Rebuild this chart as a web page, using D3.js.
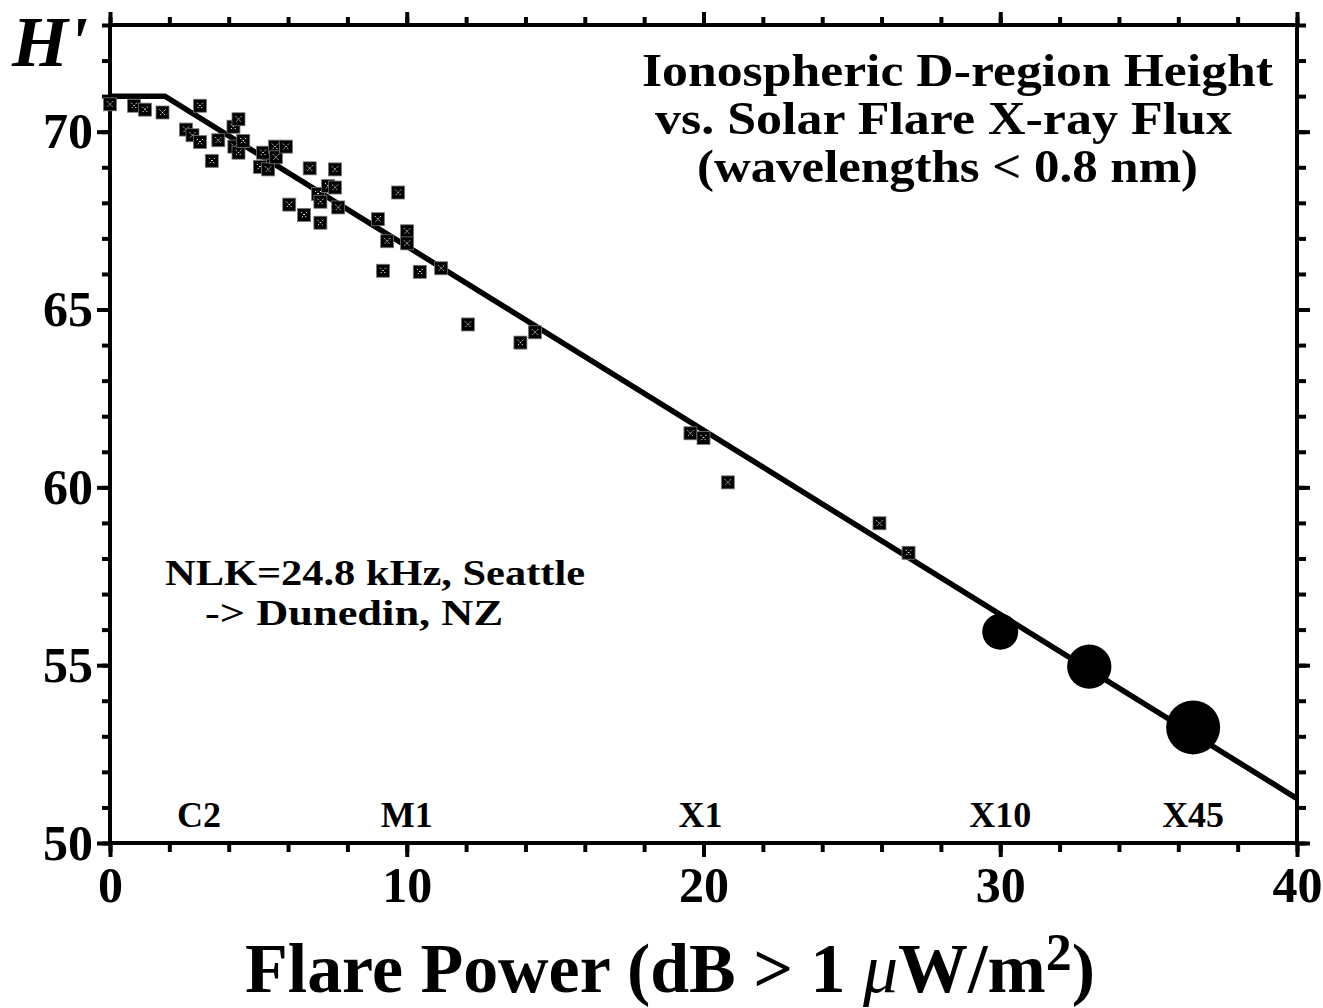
<!DOCTYPE html>
<html>
<head>
<meta charset="utf-8">
<script src="https://cdn.jsdelivr.net/npm/d3@7"></script>
<style>
  html, body { margin: 0; padding: 0; background: #fff; }
  svg text { font-family: "Liberation Serif", "Times New Roman", serif; font-weight: bold; fill: #000; }
</style>
</head>
<body>
<svg id="chart" width="1323" height="1008"></svg>
<script>
// ---- data ----
const flareDb = [0.00,0.81,1.18,1.77,3.03,2.56,2.78,3.03,3.43,3.65,4.16,4.33,4.19,4.33,4.49,5.05,5.16,5.33,5.56,5.59,5.93,6.04,6.54,6.73,7.09,7.01,7.09,7.35,7.58,7.58,7.69,9.03,9.20,9.34,9.71,10.01,10.01,10.44,11.16,12.06,13.83,14.32,19.56,20.00,20.82,25.93,26.91];
const heightH = [70.77,70.73,70.62,70.54,70.73,70.06,69.90,69.71,69.18,69.76,70.14,70.35,69.58,69.41,69.74,69.01,69.41,68.94,69.58,69.28,69.58,67.95,67.66,68.97,67.44,68.25,68.03,68.47,68.43,68.94,67.87,67.54,66.09,66.92,68.29,67.20,66.86,66.06,66.16,64.58,64.07,64.36,61.52,61.39,60.14,58.99,58.16];
const bigFlareDb = [30.0, 33.0, 36.5];
const bigFlareH = [55.94, 54.96, 53.25];
const fitDb = [0, 1.85, 40];
const fitH = [71, 71, 51.25];
const classNames = ["C2", "M1", "X1", "X10", "X45"];
const classDb = [3.0, 10.0, 19.9, 30.0, 36.5];
const xMajorTicks = [0, 10, 20, 30, 40];
const yMajorTicks = [50, 55, 60, 65, 70];

// ---- layout ----
const svg = d3.select("#chart");
const L = 110, R = 1297, T = 25, B = 843;
const x = d3.scaleLinear().domain([0, 40]).range([L, R]);
const y = d3.scaleLinear().domain([50, 73]).range([B, T]);
const rScale = d3.scaleLinear().domain([30, 36.5]).range([18, 27]);

function styleAxis(g) {
  g.select(".domain").remove();
  g.selectAll(".tick line").attr("stroke", "#000").attr("stroke-width", 4);
}

// minor ticks
const xMinor = d3.range(0, 41, 2);
const yMinor = d3.range(50, 74, 1);
svg.append("g").attr("transform", `translate(0,${B})`)
  .call(d3.axisBottom(x).tickValues(xMinor).tickSize(9).tickFormat("")).call(styleAxis);
svg.append("g").attr("transform", `translate(0,${T})`)
  .call(d3.axisTop(x).tickValues(xMinor).tickSize(8).tickFormat("")).call(styleAxis);
svg.append("g").attr("transform", `translate(${L},0)`)
  .call(d3.axisLeft(y).tickValues(yMinor).tickSize(8).tickFormat("")).call(styleAxis);
svg.append("g").attr("transform", `translate(${R},0)`)
  .call(d3.axisRight(y).tickValues(yMinor).tickSize(9).tickFormat("")).call(styleAxis);

// major ticks
const xb = svg.append("g").attr("transform", `translate(0,${B})`)
  .call(d3.axisBottom(x).tickValues(xMajorTicks).tickSize(14).tickFormat(d3.format("d"))).call(styleAxis);
xb.selectAll(".tick text").attr("y", 59).attr("dy", null)
  .style("font-size", "50px").style("font-family", "'Liberation Serif', serif").style("font-weight", "bold");
svg.append("g").attr("transform", `translate(0,${T})`)
  .call(d3.axisTop(x).tickValues(xMajorTicks).tickSize(13).tickFormat("")).call(styleAxis);
const yl = svg.append("g").attr("transform", `translate(${L},0)`)
  .call(d3.axisLeft(y).tickValues(yMajorTicks).tickSize(13).tickFormat(d3.format("d"))).call(styleAxis);
yl.selectAll(".tick text").attr("x", -17).attr("dy", null).attr("y", 16)
  .style("font-size", "50px").style("font-family", "'Liberation Serif', serif").style("font-weight", "bold");
svg.append("g").attr("transform", `translate(${R},0)`)
  .call(d3.axisRight(y).tickValues(yMajorTicks).tickSize(13).tickFormat("")).call(styleAxis);

// frame
svg.append("rect").attr("x", L).attr("y", T).attr("width", R - L).attr("height", B - T)
  .attr("fill", "none").attr("stroke", "#000").attr("stroke-width", 4);

// fit line
const fit = fitDb.map((d, i) => [d, fitH[i]]);
svg.append("path").datum(fit)
  .attr("d", d3.line().x(d => x(d[0])).y(d => y(d[1])))
  .attr("fill", "none").attr("stroke", "#000").attr("stroke-width", 5.5).attr("stroke-linejoin", "miter");

// square markers
const pts = flareDb.map((d, i) => [d, heightH[i]]);
const mk = svg.append("g").selectAll("g").data(pts).join("g")
  .attr("transform", d => `translate(${x(d[0])},${y(d[1])})`);
mk.append("rect").attr("x", -6.5).attr("y", -6.5).attr("width", 13).attr("height", 13)
  .attr("fill", "#000").attr("stroke", "#777").attr("stroke-width", 0.8);
mk.append("path").attr("d", "M-3,-3L3,3M3,-3L-3,3")
  .attr("stroke", "#fff").attr("stroke-width", 1).attr("stroke-dasharray", "1.5,1.5");

// big flares
const big = bigFlareDb.map((d, i) => [d, bigFlareH[i]]);
svg.append("g").selectAll("circle").data(big).join("circle")
  .attr("cx", d => x(d[0])).attr("cy", d => y(d[1])).attr("r", d => rScale(d[0])).attr("fill", "#000");

// flare class labels
svg.append("g").selectAll("text").data(classNames).join("text")
  .attr("x", (d, i) => x(classDb[i])).attr("y", 827)
  .attr("text-anchor", "middle").style("font-size", "36px").text(d => d);

// H' label
svg.append("text").attr("x", 12).attr("y", 66)
  .style("font-size", "72px").style("font-style", "italic").text("H'");

// title
const titleLines = ["Ionospheric D-region Height", "vs. Solar Flare X-ray Flux", "(wavelengths < 0.8 nm)"];
const titleX = [642, 655, 697];
const titleY = [86, 134, 182];
const titleW = [631, 577, 501];
svg.append("g").selectAll("text").data(titleLines).join("text")
  .attr("x", (d, i) => titleX[i]).attr("y", (d, i) => titleY[i])
  .attr("textLength", (d, i) => titleW[i]).attr("lengthAdjust", "spacingAndGlyphs")
  .style("font-size", "46px").text(d => d);

// annotation
svg.append("text").attr("x", 165).attr("y", 585).attr("textLength", 420).attr("lengthAdjust", "spacingAndGlyphs")
  .style("font-size", "36px").text("NLK=24.8 kHz, Seattle");
svg.append("text").attr("x", 205).attr("y", 625).attr("textLength", 298).attr("lengthAdjust", "spacingAndGlyphs")
  .style("font-size", "36px").text("->  Dunedin, NZ");

// x axis title
const xt = svg.append("text").attr("x", 245).attr("y", 992)
  .attr("textLength", 850).attr("lengthAdjust", "spacingAndGlyphs")
  .style("font-size", "70px");
xt.append("tspan").text("Flare Power (dB > 1 ");
xt.append("tspan").style("font-style", "italic").style("font-weight", "normal").text("\u03BC");
xt.append("tspan").text("W/m");
xt.append("tspan").attr("dy", -22).style("font-size", "52px").text("2");
xt.append("tspan").attr("dy", 22).text(")");
</script>
</body>
</html>
